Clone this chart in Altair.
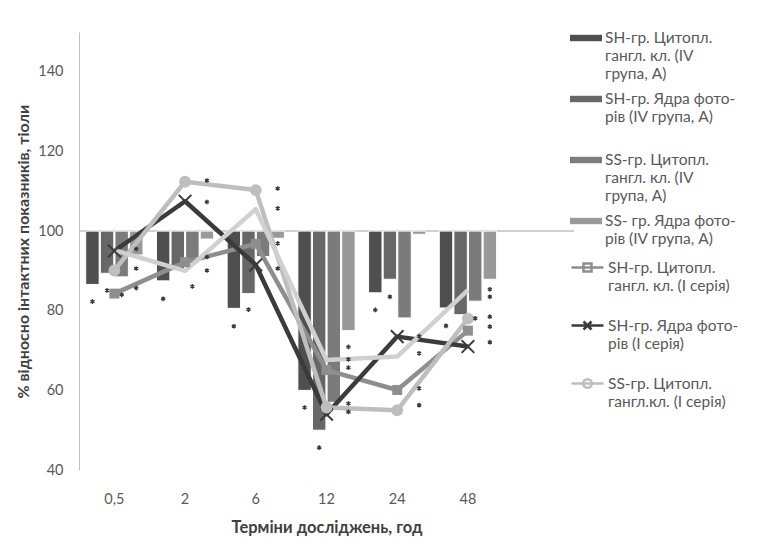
import altair as alt
import pandas as pd

# ---------------- data ----------------
times = ["0,5", "2", "6", "12", "24", "48"]
blank = "_"  # empty 7th category slot (as in the original chart)

bar_names = [
    "SH-гр. Цитопл.|гангл. кл. (IV|група, А)",
    "SH-гр. Ядра фото-|рів (IV група, А)",
    "SS-гр. Цитопл.|гангл. кл. (IV|група, А)",
    "SS- гр. Ядра фото-|рів (IV група, А)",
]
bar_sh_cyto_iv = [86.6, 87.5, 80.6, 60.0, 84.5, 80.7]
bar_sh_nucl_iv = [89.4, 90.5, 84.3, 50.0, 87.9, 79.0]
bar_ss_cyto_iv = [88.5, 92.0, 93.6, 57.0, 78.2, 82.4]
bar_ss_nucl_iv = [94.0, 98.0, 98.2, 75.0, 99.2, 87.9]
bar_colors = ["#4f4f4f", "#676767", "#7b7b7b", "#999999"]

line_names = [
    "SH-гр. Цитопл.|гангл. кл. (І серія)",
    "SH-гр. Ядра фото-|рів (І серія)",
    "SS-гр. Цитопл.|гангл.кл. (І серія)",
    "SS-гр. Ядра фото-|рів (І серія)",
]
line_sh_cyto_i = [84.3, 92.2, 96.8, 65.1, 60.1, 75.0]
line_sh_nucl_i = [95.0, 107.5, 91.5, 54.0, 73.5, 71.0]
line_ss_cyto_i = [90.1, 112.4, 110.3, 55.7, 55.0, 78.0]
line_ss_nucl_i = [95.2, 90.0, 105.5, 67.6, 68.5, 85.2]
line_colors = ["#8e8e8e", "#3b3b3b", "#bebebe", "#d0d0d0"]

# significance asterisks: time, slot (bar position in group), value
star_time = (["0,5"] * 6 + ["2"] * 6 + ["6"] * 6 + ["12"] * 7 + ["24"] * 6 + ["48"] * 7)
star_slot = ([0, 1, 2, 3, 3, 3] + [0, 2, 3, 3, 3, 3] + [0, 1, 3, 3, 3, 3]
             + [0, 1, 3, 3, 3, 3, 3] + [0, 1, 3, 3, 3, 3] + [0, 2, 3, 3, 3, 3, 3])
star_value = ([82.3, 85.1, 84.0, 85.7, 90.6, 95.5]
              + [83.0, 86.1, 90.1, 93.5, 107.3, 112.7]
              + [76.1, 80.3, 90.6, 96.9, 105.7, 110.7]
              + [55.7, 45.6, 54.6, 56.7, 65.7, 67.8, 70.9]
              + [80.2, 83.5, 56.3, 60.5, 69.3, 73.6]
              + [76.2, 78.1, 72.1, 76.0, 78.5, 83.5, 85.4])

baseline = 100

# ---------------- tables ----------------
bar_rows = []
for name, vals in zip(bar_names, [bar_sh_cyto_iv, bar_sh_nucl_iv, bar_ss_cyto_iv, bar_ss_nucl_iv]):
    for t, v in zip(times, vals):
        bar_rows.append({"time": t, "series": name, "value": v})
bar_df = pd.DataFrame(bar_rows)

line_rows = []
for name, vals in zip(line_names, [line_sh_cyto_i, line_sh_nucl_i, line_ss_cyto_i, line_ss_nucl_i]):
    for i, (t, v) in enumerate(zip(times, vals)):
        line_rows.append({"time": t, "lseries": name, "value": v, "idx": i})
line_df = pd.DataFrame(line_rows)

star_df = pd.DataFrame({
    "time": star_time,
    "series": [bar_names[s] for s in star_slot],
    "value": star_value,
})

# ---------------- encodings ----------------
TXT = "#595959"
x_enc = alt.X(
    "time:N",
    scale=alt.Scale(domain=times + [blank], paddingInner=0.19, paddingOuter=0.095),
    axis=alt.Axis(domain=False, ticks=False, tickSize=0, labelPadding=22, labelFontSize=14.5,
                  labelColor=TXT, labelAngle=0,
                  labelExpr="datum.value == '_' ? '' : datum.label",
                  titleFontSize=16.5, titleFontWeight="bold", titleColor="#404040", titlePadding=14),
    title="Терміни досліджень, год",
)
y_enc = alt.Y(
    "value:Q",
    scale=alt.Scale(domain=[40, 150], nice=False, zero=False),
    axis=alt.Axis(values=[40, 60, 80, 100, 120, 140], grid=False, ticks=False, tickSize=0,
                  domainColor="#c0c0c0", labelFontSize=14.5, labelColor=TXT, labelPadding=16,
                  titleFontSize=16, titleFontWeight="bold", titleColor="#404040", titlePadding=6),
    title="% відносно інтактних показників, тіоли",
)
xoff = alt.XOffset("series:N", scale=alt.Scale(domain=bar_names, paddingInner=0.08))

bar_legend = alt.Legend(
    orient="none", legendX=491, legendY=-10, title=None, padding=0,
    symbolType="M-1,-0.2H1V0.2H-1Z", symbolSize=1024, symbolStrokeWidth=0,
    labelExpr="split(datum.label, '|')", labelFontSize=15.5, labelColor=TXT, labelLimit=0,
    labelOffset=3, gridAlign="all", rowPadding=0,
)

path_sq = "M-1,0H1M-0.25,-0.25H0.25V0.25H-0.25Z"
path_x = "M-1,0H1M-0.25,-0.25L0.25,0.25M-0.25,0.25L0.25,-0.25"
path_ci = "M-1,0H1M0.27,0A0.27,0.27 0 1,1 -0.27,0A0.27,0.27 0 1,1 0.27,0Z"
path_plain = "M-1,0H1"

line_legend = alt.Legend(
    orient="none", legendX=491, legendY=218, title=None, padding=0,
    values=line_names[:3], symbolSize=1024, symbolStrokeWidth=2.5,
    labelExpr="split(datum.label, '|')", labelFontSize=15.5, labelColor=TXT, labelLimit=0,
    labelOffset=3, gridAlign="all", rowPadding=14,
)
line_stroke_scale = alt.Scale(domain=line_names, range=line_colors)

# ---------------- layers ----------------
rule = alt.Chart(pd.DataFrame({"b": [baseline]})).mark_rule(color="#c0c0c0", strokeWidth=1.5).encode(
    y=alt.YDatum(baseline)
)

bars = alt.Chart(bar_df).mark_bar(stroke="white", strokeWidth=1).encode(
    x=x_enc, y=y_enc, y2=alt.Y2Datum(baseline), xOffset=xoff,
    color=alt.Color("series:N", scale=alt.Scale(domain=bar_names, range=bar_colors), legend=bar_legend),
)

lines = alt.Chart(line_df).mark_line(strokeWidth=4.5, strokeJoin="round").encode(
    x=x_enc, y=y_enc,
    stroke=alt.Stroke("lseries:N", scale=line_stroke_scale, legend=line_legend),
    order=alt.Order("idx:Q"),
)

# invisible layer that only supplies legend symbols (line + marker)
legend_src = alt.Chart(line_df).mark_point(opacity=0, filled=True, strokeWidth=2.5).encode(
    x=x_enc, y=y_enc,
    stroke=alt.Stroke("lseries:N", scale=line_stroke_scale, legend=line_legend),
    fill=alt.Fill("lseries:N", scale=alt.Scale(domain=line_names,
                                                range=[line_colors[0], "transparent", line_colors[2], "transparent"]),
                  legend=line_legend),
    shape=alt.Shape("lseries:N", scale=alt.Scale(domain=line_names, range=[path_sq, path_x, path_ci, path_plain]),
                    legend=line_legend),
)

pts_sq = alt.Chart(line_df).transform_filter(alt.datum.lseries == line_names[0]).mark_point(
    shape="square", filled=True, size=100, color=line_colors[0], opacity=1
).encode(x=x_enc, y=y_enc)

pts_x = alt.Chart(line_df).transform_filter(alt.datum.lseries == line_names[1]).mark_point(
    shape="M-1,-1L1,1M-1,1L1,-1", filled=False, size=160, color=line_colors[1], strokeWidth=2, opacity=1
).encode(x=x_enc, y=y_enc)

pts_ci = alt.Chart(line_df).transform_filter(alt.datum.lseries == line_names[2]).mark_point(
    shape="circle", filled=True, size=140, color=line_colors[2], opacity=1
).encode(x=x_enc, y=y_enc)

stars = alt.Chart(star_df).mark_point(
    shape="M0,-1V1M-0.87,-0.5L0.87,0.5M-0.87,0.5L0.87,-0.5", filled=False, size=22,
    color="#3a3a3a", strokeWidth=1.4, opacity=1
).encode(x=x_enc, y=y_enc, xOffset=xoff)

chart = alt.layer(rule, bars, lines, legend_src, pts_sq, pts_x, pts_ci, stars).properties(
    width=495, height=438,
    autosize=alt.AutoSizeParams(type="none"),
    padding={"left": 71, "top": 24, "right": 183, "bottom": 78},
).configure(
    font="Lato",
    style={"guide-label": {"lineHeight": 18}},
).configure_view(stroke=None)

chart.save("out.html", embed_options={"renderer": "svg", "actions": False})
